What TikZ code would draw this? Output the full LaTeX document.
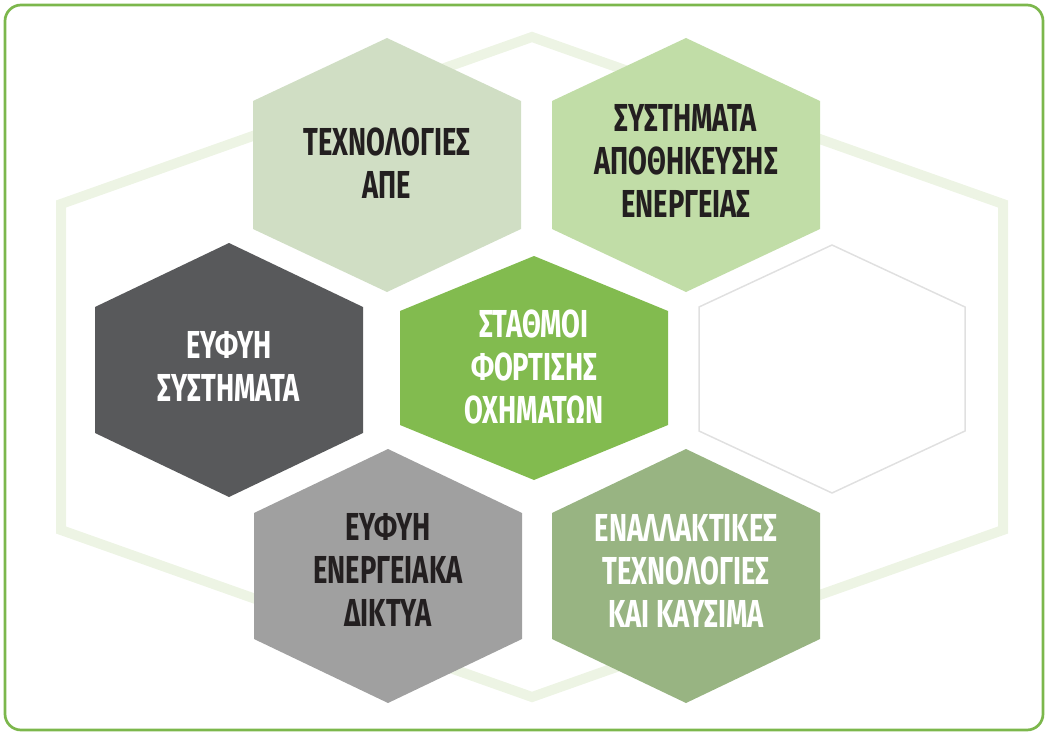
\documentclass[tikz,border=0pt]{standalone}
\usepackage{fontspec}
\usepackage{xcolor}
\newfontfamily\hexfont{Fira Sans}[FakeStretch=0.7]
\definecolor{framegreen}{HTML}{7CB74C}
\definecolor{bghex}{HTML}{EDF4E4}
\definecolor{sagelight}{HTML}{D0DEC4}
\definecolor{greenlight}{HTML}{C1DDA7}
\definecolor{darkgrey}{HTML}{58595B}
\definecolor{midgreen}{HTML}{82BB4F}
\definecolor{midgrey}{HTML}{A0A0A0}
\definecolor{sagegreen}{HTML}{98B482}
\definecolor{outlinegrey}{HTML}{E0E0E0}
\definecolor{inkblack}{HTML}{231F20}
\tikzset{hexlabel/.style={font=\hexfont\bfseries\fontsize{39}{43}\selectfont,align=center,inner sep=0pt}}
% hexagon: centre x, centre y, half width, half height, half side
\newcommand{\hexpath}[5]{(#1,#2-#4) -- (#1+#3,#2-#5) -- (#1+#3,#2+#5) -- (#1,#2+#4) -- (#1-#3,#2+#5) -- (#1-#3,#2-#5) -- cycle}

\begin{document}
\begin{tikzpicture}[x=1pt,y=-1pt]
  \useasboundingbox (0,0) rectangle (1047,733);
  % Frame
  \draw[framegreen,line width=2.7,rounded corners=16] (5,5) rectangle (1043,730);
  % Background hexagon
  \draw[bghex,line width=10,line join=miter] \hexpath{532}{367}{471}{330}{163};
  % Hexagons
  \fill[sagelight] \hexpath{387}{165}{134}{127}{64};
  \fill[greenlight] \hexpath{686}{165}{134}{127}{64};
  \fill[darkgrey] \hexpath{229}{370}{134}{127}{63};
  \fill[midgreen] \hexpath{534}{368}{134}{112}{57};
  \draw[outlinegrey,line width=1.5] \hexpath{832}{369}{133}{124}{62};
  \fill[midgrey] \hexpath{388}{576}{134}{127}{63};
  \fill[sagegreen] \hexpath{686}{576}{134}{127}{63};
  % Labels
  \node[hexlabel,text=inkblack] (res) at (387,163) {ΤΕΧΝΟΛΟΓΙΕΣ\\ΑΠΕ};
  \node[hexlabel,text=inkblack] (storage) at (686,161) {ΣΥΣΤΗΜΑΤΑ\\ΑΠΟΘΗΚΕΥΣΗΣ\\ΕΝΕΡΓΕΙΑΣ};
  \node[hexlabel,text=white] (smart) at (229,366) {ΕΥΦΥΗ\\ΣΥΣΤΗΜΑΤΑ};
  \node[hexlabel,text=white] (charging) at (534,367) {ΣΤΑΘΜΟΙ\\ΦΟΡΤΙΣΗΣ\\ΟΧΗΜΑΤΩΝ};
  \node[hexlabel,text=inkblack] (grids) at (388,570) {ΕΥΦΥΗ\\ΕΝΕΡΓΕΙΑΚΑ\\ΔΙΚΤΥΑ};
  \node[hexlabel,text=white] (fuels) at (686,571) {ΕΝΑΛΛΑΚΤΙΚΕΣ\\ΤΕΧΝΟΛΟΓΙΕΣ\\ΚΑΙ ΚΑΥΣΙΜΑ};
\end{tikzpicture}
\end{document}
